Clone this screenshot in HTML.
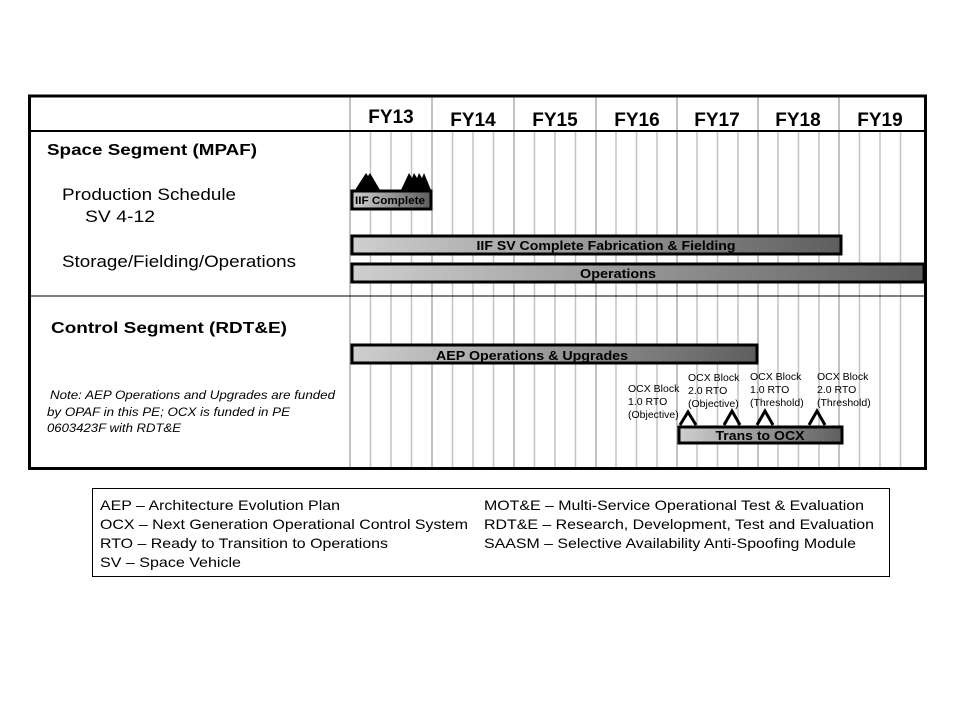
<!DOCTYPE html>
<html><head><meta charset="utf-8"><style>
html,body{margin:0;padding:0;background:#fff;}
svg{display:block;font-family:"Liberation Sans",Arial,sans-serif;}
</style></head><body>
<svg width="960" height="720" viewBox="0 0 960 720" xmlns="http://www.w3.org/2000/svg">
<defs>
<linearGradient id="g" x1="0" x2="1" y1="0" y2="0">
<stop offset="0" stop-color="#cfcfcf"/><stop offset="1" stop-color="#5e5e5e"/>
</linearGradient>
</defs>
<rect width="960" height="720" fill="#fff"/>
<g stroke="#c4c4c4" stroke-width="1.5">
<line x1="370.5" y1="131" x2="370.5" y2="469"/><line x1="391" y1="131" x2="391" y2="469"/><line x1="411.5" y1="131" x2="411.5" y2="469"/>
<line x1="452.5" y1="131" x2="452.5" y2="469"/><line x1="473" y1="131" x2="473" y2="469"/><line x1="493.5" y1="131" x2="493.5" y2="469"/>
<line x1="534.5" y1="131" x2="534.5" y2="469"/><line x1="555" y1="131" x2="555" y2="469"/><line x1="575.5" y1="131" x2="575.5" y2="469"/>
<line x1="616" y1="131" x2="616" y2="469"/><line x1="636.5" y1="131" x2="636.5" y2="469"/><line x1="657" y1="131" x2="657" y2="469"/>
<line x1="697" y1="131" x2="697" y2="469"/><line x1="717.5" y1="131" x2="717.5" y2="469"/><line x1="738" y1="131" x2="738" y2="469"/>
<line x1="778" y1="131" x2="778" y2="469"/><line x1="798.5" y1="131" x2="798.5" y2="469"/><line x1="819" y1="131" x2="819" y2="469"/>
<line x1="859.5" y1="131" x2="859.5" y2="469"/><line x1="880" y1="131" x2="880" y2="469"/><line x1="900.5" y1="131" x2="900.5" y2="469"/>
</g>
<g stroke="#9a9a9a" stroke-width="1.2">
<line x1="350" y1="95" x2="350" y2="469"/><line x1="432" y1="95" x2="432" y2="469"/><line x1="514" y1="95" x2="514" y2="469"/>
<line x1="596" y1="95" x2="596" y2="469"/><line x1="677" y1="95" x2="677" y2="469"/><line x1="758" y1="95" x2="758" y2="469"/>
<line x1="839" y1="95" x2="839" y2="469"/>
</g>
<line x1="29" y1="131" x2="926" y2="131" stroke="#000" stroke-width="2"/>
<line x1="29" y1="296" x2="926" y2="296" stroke="#000" stroke-width="1"/>
<rect x="29.5" y="96" width="896" height="372.5" fill="none" stroke="#000" stroke-width="3"/>
<g font-size="19" font-weight="bold" text-anchor="middle" fill="#000">
<text x="391" y="123">FY13</text><text x="473" y="126">FY14</text><text x="555" y="126">FY15</text>
<text x="637" y="126">FY16</text><text x="717" y="126">FY17</text><text x="798" y="126">FY18</text><text x="880" y="126">FY19</text>
</g>
<text x="47" y="155" font-size="16" font-weight="bold" textLength="210" lengthAdjust="spacingAndGlyphs">Space Segment (MPAF)</text>
<text x="62" y="200" font-size="17" textLength="174" lengthAdjust="spacingAndGlyphs">Production Schedule</text>
<text x="85" y="222" font-size="17" textLength="70" lengthAdjust="spacingAndGlyphs">SV 4-12</text>
<text x="62" y="267" font-size="17" textLength="234" lengthAdjust="spacingAndGlyphs">Storage/Fielding/Operations</text>
<text x="51" y="333" font-size="16" font-weight="bold" textLength="236" lengthAdjust="spacingAndGlyphs">Control Segment (RDT&amp;E)</text>
<g font-size="11.5" font-style="italic">
<text x="50" y="399" textLength="285" lengthAdjust="spacingAndGlyphs">Note: AEP Operations and Upgrades are funded</text>
<text x="47" y="416" textLength="243" lengthAdjust="spacingAndGlyphs">by OPAF in this PE; OCX is funded in PE</text>
<text x="47" y="432" textLength="134" lengthAdjust="spacingAndGlyphs">0603423F  with RDT&amp;E</text>
</g>
<polygon points="355,190 366,173 368,176 370,173 380,190" fill="#000"/>
<polygon points="401,190 409,173 412,178 414,173 417,178 419,173 422,178 424,173 431,190" fill="#000"/>
<g stroke="#000" stroke-width="3" fill="url(#g)">
<rect x="352" y="191" width="79" height="18"/>
<rect x="352" y="236" width="489" height="18"/>
<rect x="352" y="264" width="572" height="18"/>
<rect x="352" y="345" width="405" height="18"/>
<rect x="679" y="427" width="163" height="16"/>
</g>
<g font-weight="bold" text-anchor="middle">
<text x="390" y="204" font-size="11" textLength="70" lengthAdjust="spacingAndGlyphs">IIF Complete</text>
<text x="606" y="250" font-size="13" textLength="259" lengthAdjust="spacingAndGlyphs">IIF SV Complete Fabrication &amp; Fielding</text>
<text x="618" y="278" font-size="13" textLength="76" lengthAdjust="spacingAndGlyphs">Operations</text>
<text x="532" y="360" font-size="13" textLength="192" lengthAdjust="spacingAndGlyphs">AEP  Operations &amp; Upgrades</text>
<text x="760" y="440" font-size="13" textLength="89" lengthAdjust="spacingAndGlyphs">Trans to OCX</text>
</g>
<g fill="none" stroke="#000" stroke-width="3">
<polyline points="680,425 688,412 696,425"/>
<polyline points="724,425 732,411 740,425"/>
<polyline points="757,425 765,411 773,425"/>
<polyline points="809,425 817,411 825,425"/>
</g>
<g font-size="10.5" fill="#000">
<text x="628" y="392">OCX Block</text><text x="628" y="405">1.0 RTO</text><text x="628" y="418">(Objective)</text>
<text x="688" y="381">OCX Block</text><text x="688" y="394">2.0 RTO</text><text x="688" y="407">(Objective)</text>
<text x="750" y="380">OCX Block</text><text x="750" y="393">1.0 RTO</text><text x="750" y="406">(Threshold)</text>
<text x="817" y="380">OCX Block</text><text x="817" y="393">2.0 RTO</text><text x="817" y="406">(Threshold)</text>
</g>
<rect x="92.5" y="488.5" width="797" height="88" fill="none" stroke="#000" stroke-width="1"/>
<g font-size="14" fill="#000">
<text x="100" y="510" textLength="240" lengthAdjust="spacingAndGlyphs">AEP – Architecture Evolution Plan</text>
<text x="100" y="529" textLength="368" lengthAdjust="spacingAndGlyphs">OCX – Next Generation Operational Control System</text>
<text x="100" y="548" textLength="288" lengthAdjust="spacingAndGlyphs">RTO – Ready to Transition to Operations</text>
<text x="100" y="567" textLength="141" lengthAdjust="spacingAndGlyphs">SV – Space Vehicle</text>
<text x="484" y="510" textLength="380" lengthAdjust="spacingAndGlyphs">MOT&amp;E – Multi-Service Operational Test &amp; Evaluation</text>
<text x="484" y="529" textLength="390" lengthAdjust="spacingAndGlyphs">RDT&amp;E – Research, Development, Test and Evaluation</text>
<text x="484" y="548" textLength="372" lengthAdjust="spacingAndGlyphs">SAASM – Selective Availability Anti-Spoofing Module</text>
</g>
</svg>
</body></html>
